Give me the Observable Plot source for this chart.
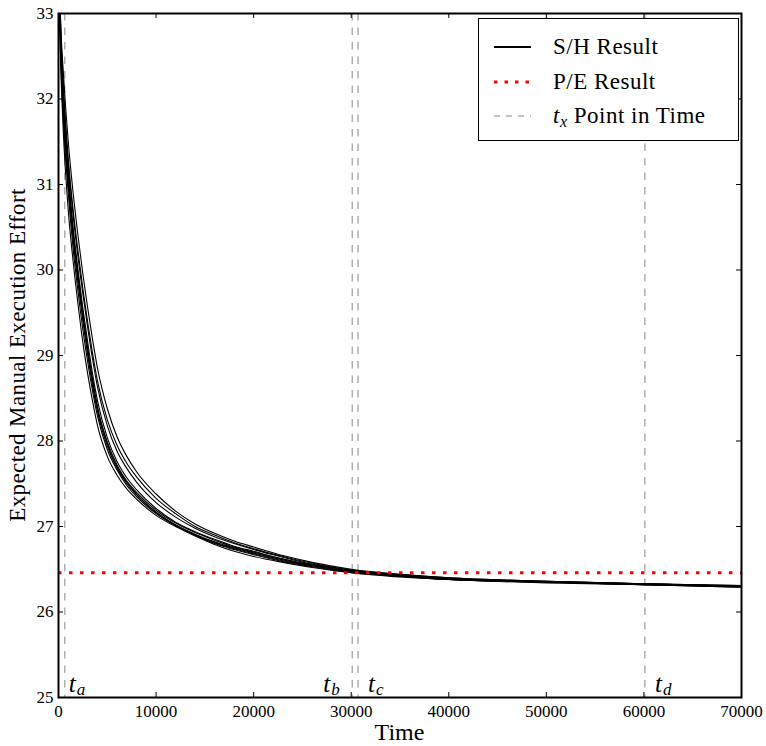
<!DOCTYPE html>
<html>
<head>
<meta charset="utf-8">
<script src="https://cdn.jsdelivr.net/npm/d3@7"></script>
<script src="https://cdn.jsdelivr.net/npm/@observablehq/plot@0.6"></script>
<style>
  html, body { margin: 0; padding: 0; background: #fff; }
  svg { display: block; }
</style>
</head>
<body>
<div id="chart"></div>
<script>
// ---- data ----
const times = [0, 250, 500, 1000, 1500, 2000, 2500, 3000, 3500, 4000, 5000, 6000, 7000, 8000, 10000, 12000, 14000, 16000, 18000, 20000, 23000, 26000, 30000, 35000, 40000, 50000, 60000, 70000];
const run1 = [33.7, 32.8, 32.3, 31.5, 30.9, 30.4, 29.95, 29.55, 29.18, 28.85, 28.38, 28.05, 27.82, 27.64, 27.38, 27.18, 27.03, 26.92, 26.83, 26.76, 26.66, 26.58, 26.50, 26.44, 26.40, 26.36, 26.33, 26.30];
const run2 = [33.4, 32.3, 31.6, 30.7, 30.1, 29.6, 29.15, 28.78, 28.46, 28.18, 27.82, 27.6, 27.44, 27.32, 27.13, 27.0, 26.89, 26.79, 26.71, 26.65, 26.58, 26.52, 26.46, 26.42, 26.38, 26.35, 26.32, 26.29];
const run3 = [33.6, 32.6, 31.95, 31.1, 30.45, 29.95, 29.5, 29.08, 28.72, 28.4, 27.99, 27.72, 27.53, 27.4, 27.19, 27.04, 26.93, 26.84, 26.76, 26.70, 26.62, 26.55, 26.48, 26.43, 26.39, 26.35, 26.33, 26.30];
const run4 = [33.5, 32.5, 31.85, 31.0, 30.35, 29.85, 29.4, 29.0, 28.64, 28.34, 27.94, 27.68, 27.5, 27.37, 27.16, 27.01, 26.90, 26.81, 26.74, 26.68, 26.60, 26.54, 26.47, 26.42, 26.38, 26.35, 26.32, 26.30];
const run5 = [33.6, 32.7, 32.1, 31.25, 30.65, 30.15, 29.72, 29.32, 28.95, 28.63, 28.18, 27.88, 27.68, 27.52, 27.28, 27.11, 26.98, 26.88, 26.80, 26.73, 26.64, 26.56, 26.49, 26.43, 26.39, 26.36, 26.33, 26.31];
const run6 = [33.5, 32.55, 31.9, 31.05, 30.4, 29.9, 29.45, 29.05, 28.69, 28.38, 27.97, 27.7, 27.52, 27.38, 27.17, 27.02, 26.91, 26.82, 26.75, 26.69, 26.61, 26.54, 26.47, 26.42, 26.38, 26.35, 26.32, 26.30];
const run7 = [33.7, 32.75, 32.15, 31.3, 30.7, 30.22, 29.78, 29.38, 29.02, 28.7, 28.25, 27.95, 27.74, 27.58, 27.33, 27.15, 27.0, 26.90, 26.81, 26.74, 26.65, 26.57, 26.49, 26.44, 26.40, 26.36, 26.33, 26.31];
const run8 = [33.4, 32.4, 31.75, 30.9, 30.25, 29.75, 29.3, 28.92, 28.58, 28.29, 27.9, 27.66, 27.48, 27.35, 27.15, 27.01, 26.90, 26.80, 26.73, 26.67, 26.59, 26.53, 26.46, 26.41, 26.38, 26.34, 26.32, 26.29];
const run9 = [33.6, 32.6, 32.0, 31.15, 30.5, 30.0, 29.55, 29.15, 28.78, 28.47, 28.04, 27.76, 27.57, 27.43, 27.21, 27.05, 26.94, 26.85, 26.77, 26.71, 26.62, 26.55, 26.48, 26.43, 26.39, 26.35, 26.33, 26.30];
const runs = [run1, run2, run3, run4, run5, run6, run7, run8, run9];

const peResult = 26.46;
const pointTimes = [650, 30100, 30700, 60100];
const pointNames = ["a", "b", "c", "d"];
const xTicks = [0, 10000, 20000, 30000, 40000, 50000, 60000, 70000];
const yTicks = [25, 26, 27, 28, 29, 30, 31, 32, 33];
const legendLabels = ["S/H Result", "P/E Result", "Point in Time"];

// ---- table built from the arrays ----
const rows = runs.flatMap((r, k) => r.map((v, i) => ({run: k, time: times[i], value: v})));

const W = 766, H = 746, mL = 58, mR = 25, mT = 13, mB = 49;
const innerW = W - mL - mR, innerH = H - mT - mB;
const FONT = "'Liberation Serif', 'DejaVu Serif', serif";
const tickLen = 5;

// per-label offsets for the t_x annotations
const labelDx = [4, -29, 10, 10];

const marks = [
  Plot.ruleX(pointTimes, {x: d => d, stroke: "#888", strokeWidth: 1, strokeDasharray: "7.5,7"}),
  Plot.line(rows, {x: "time", y: "value", z: "run", stroke: "black", strokeWidth: 1.1, curve: "monotone-x", clip: true}),
  Plot.ruleY([peResult], {y: d => d, stroke: "red", strokeWidth: 3, strokeDasharray: "3.5,7.5"}),
  // inward ticks on all four sides
  Plot.tickX(xTicks, {x: d => d, stroke: "black", strokeWidth: 1, insetTop: innerH - tickLen}),
  Plot.tickX(xTicks, {x: d => d, stroke: "black", strokeWidth: 1, insetBottom: innerH - tickLen}),
  Plot.tickY(yTicks, {y: d => d, stroke: "black", strokeWidth: 1, insetRight: innerW - tickLen}),
  Plot.tickY(yTicks, {y: d => d, stroke: "black", strokeWidth: 1, insetLeft: innerW - tickLen}),
  Plot.axisX(xTicks, {tickSize: 0, tickPadding: 7, fontSize: 17, fontFamily: FONT, label: null, tickFormat: d => String(d), fill: "black"}),
  Plot.axisY(yTicks, {tickSize: 0, tickPadding: 5, fontSize: 17, fontFamily: FONT, label: null, tickFormat: d => String(d), fill: "black"}),
  Plot.frame({stroke: "black", strokeWidth: 2})
];
pointTimes.forEach((t, i) => {
  marks.push(Plot.text([t], {x: d => d, text: () => "t", frameAnchor: "bottom", textAnchor: "start", lineAnchor: "bottom", dx: labelDx[i], dy: -6, fontSize: 25, fontStyle: "italic", fontFamily: FONT, fill: "black"}));
  marks.push(Plot.text([t], {x: d => d, text: () => pointNames[i], frameAnchor: "bottom", textAnchor: "start", lineAnchor: "bottom", dx: labelDx[i] + 8, dy: -3, fontSize: 17, fontStyle: "italic", fontFamily: FONT, fill: "black"}));
});

const svg = Plot.plot({
  width: W, height: H,
  marginLeft: mL, marginRight: mR, marginTop: mT, marginBottom: mB,
  style: {background: "white", fontFamily: FONT, color: "black"},
  x: {domain: [0, 70000]},
  y: {domain: [25, 33]},
  marks
});
document.getElementById("chart").appendChild(svg);

// axis titles and legend
const s = d3.select(svg);
s.append("text").attr("x", mL + innerW / 2).attr("y", 740).attr("text-anchor", "middle")
  .attr("font-family", FONT).attr("font-size", 24).attr("fill", "black").text("Time");
s.append("text").attr("transform", `translate(25,${mT + innerH / 2}) rotate(-90)`).attr("text-anchor", "middle")
  .attr("font-family", FONT).attr("font-size", 23).attr("letter-spacing", 0.4).attr("fill", "black").text("Expected Manual Execution Effort");

const lg = s.append("g");
lg.append("rect").attr("x", 478.5).attr("y", 18.5).attr("width", 260).attr("height", 122)
  .attr("fill", "white").attr("stroke", "black").attr("stroke-width", 1);
const rowY = [47, 82, 116];
const styles = [
  {stroke: "black", width: 2, dash: null},
  {stroke: "red", width: 3, dash: "3.5,7"},
  {stroke: "#888", width: 1, dash: "6,6"}
];
rowY.forEach((y, i) => {
  const l = lg.append("line").attr("x1", 494).attr("x2", 531).attr("y1", y).attr("y2", y)
    .attr("stroke", styles[i].stroke).attr("stroke-width", styles[i].width);
  if (styles[i].dash) l.attr("stroke-dasharray", styles[i].dash);
  const t = lg.append("text").attr("x", 553).attr("y", y + 7).attr("text-anchor", "start")
    .attr("font-family", FONT).attr("font-size", 23).attr("letter-spacing", 0.5).attr("fill", "black");
  if (i === 2) {
    t.append("tspan").attr("font-style", "italic").text("t");
    t.append("tspan").attr("font-style", "italic").attr("font-size", 16).attr("dy", 4).text("x");
    t.append("tspan").attr("dy", -4).text(" " + legendLabels[i]);
  } else {
    t.text(legendLabels[i]);
  }
});
</script>
</body>
</html>
